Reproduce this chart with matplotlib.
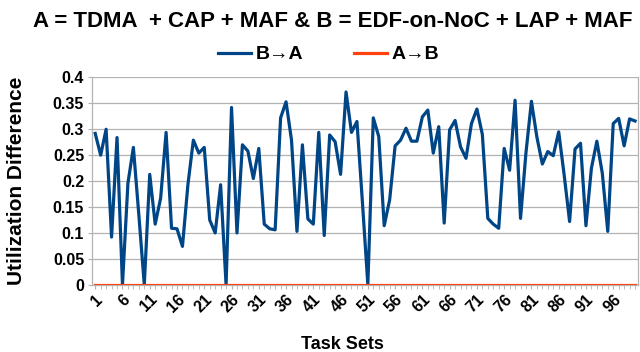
import matplotlib
matplotlib.use("Agg")
import matplotlib.pyplot as plt
import numpy as np

plt.rcParams['font.family'] = ['Liberation Sans', 'DejaVu Sans']

task_sets = list(range(1, 101))
b_to_a = [
    0.292, 0.250, 0.300, 0.092, 0.284, 0.000, 0.196, 0.265, 0.135, 0.000,
    0.213, 0.117, 0.167, 0.294, 0.109, 0.108, 0.074, 0.193, 0.279, 0.254,
    0.265, 0.125, 0.100, 0.193, 0.000, 0.342, 0.100, 0.270, 0.258, 0.205,
    0.263, 0.117, 0.108, 0.106, 0.322, 0.353, 0.279, 0.103, 0.270, 0.127,
    0.117, 0.294, 0.095, 0.289, 0.276, 0.213, 0.372, 0.294, 0.315, 0.160,
    0.000, 0.322, 0.286, 0.114, 0.164, 0.268, 0.279, 0.302, 0.277, 0.277,
    0.324, 0.337, 0.254, 0.305, 0.119, 0.299, 0.317, 0.266, 0.244, 0.311,
    0.339, 0.290, 0.128, 0.117, 0.109, 0.263, 0.221, 0.356, 0.128, 0.255,
    0.354, 0.285, 0.233, 0.257, 0.249, 0.295, 0.212, 0.122, 0.262, 0.273,
    0.114, 0.225, 0.277, 0.215, 0.103, 0.311, 0.321, 0.268, 0.320, 0.316,
]
a_to_b = [0.0] * 100

y_ticks = [0, 0.05, 0.1, 0.15, 0.2, 0.25, 0.3, 0.35, 0.4]
y_tick_labels = ["0", "0.05", "0.1", "0.15", "0.2", "0.25", "0.3", "0.35", "0.4"]
x_label_sets = task_sets[::5]

title = "A = TDMA  + CAP + MAF & B = EDF-on-NoC + LAP + MAF"

fig = plt.figure(figsize=(6.4, 3.52), dpi=100)
ax = fig.add_axes([0.1445, 0.191, 0.852, 0.589])

ax.plot(task_sets, b_to_a, color="#004586", lw=2.3, label="B\u2192A", solid_joinstyle="round", zorder=3)
ax.plot(task_sets, a_to_b, color="#ff420e", lw=2.3, label="A\u2192B", zorder=4)

ax.set_xlim(0.5, 100.5)
ax.set_ylim(0, 0.4)
ax.set_yticks(y_ticks)
ax.set_yticklabels(y_tick_labels, fontweight="bold", fontsize=11.5)
ax.set_xticks(x_label_sets)
ax.set_xticklabels([str(v) for v in x_label_sets], rotation=45, ha="right",
                   rotation_mode="anchor", fontweight="bold", fontsize=11.5)
ax.set_xticks(task_sets, minor=True)
ax.tick_params(axis="x", which="both", length=3, color="#b3b3b3", pad=2)
ax.tick_params(axis="y", length=3, color="#b3b3b3", pad=3)

ax.grid(axis="y", color="#b3b3b3", lw=0.9, zorder=0)
for s in ["left", "right", "top", "bottom"]:
    ax.spines[s].set_color("#b3b3b3")
    ax.spines[s].set_linewidth(0.9)
ax.spines["top"].set_visible(False)

ax.set_ylabel("Utilization Difference", fontweight="bold", fontsize=15)
ax.yaxis.set_label_coords(-0.122, 0.5)
ax.set_xlabel("Task Sets", fontweight="bold", fontsize=13)
ax.xaxis.set_label_coords(0.458, -0.245)

fig.suptitle(title, fontweight="bold", fontsize=16, x=0.52, y=0.968)
leg = fig.legend(loc="center", bbox_to_anchor=(0.513, 0.845), ncol=2, frameon=False,
                 prop={"weight": "bold", "size": 14}, handlelength=1.7,
                 columnspacing=2.6, handletextpad=0.25)

fig.savefig("out.png", dpi=100)
